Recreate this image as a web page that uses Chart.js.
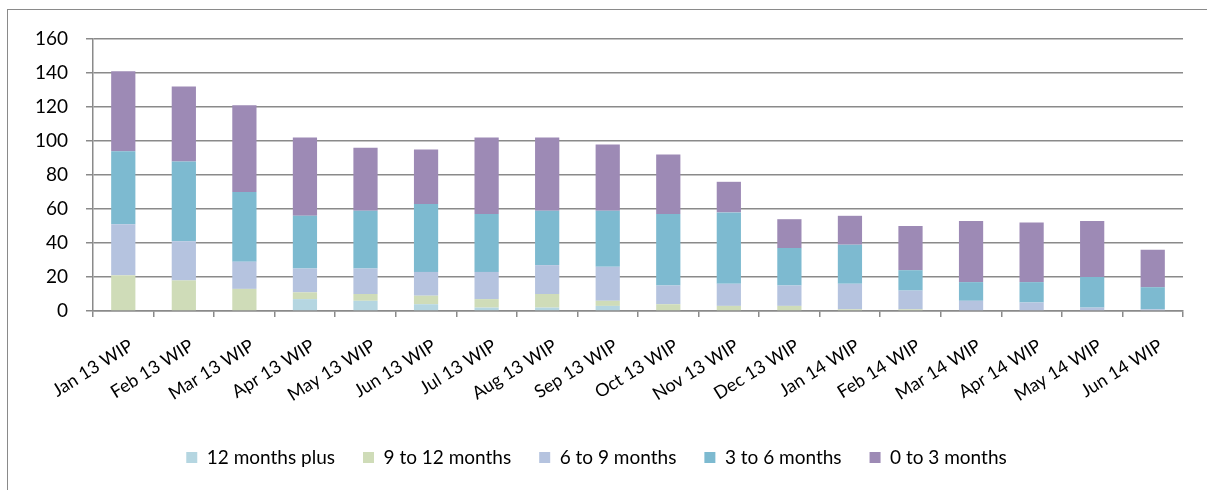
<!DOCTYPE html>
<html>
<head>
<meta charset="utf-8">
<script src="https://cdn.jsdelivr.net/npm/chart.js@4/dist/chart.umd.min.js"></script>
<style>
  body { margin: 0; background: #fff; overflow: hidden; }
  #wrap { position: relative; width: 1207px; height: 490px; }
  #frame { position: absolute; left: 7px; top: 9px; width: 1300px; height: 600px;
           border-left: 1.5px solid #8a8a8a; border-top: 1.5px solid #8a8a8a; }
  canvas { position: absolute; left: 0; top: 0; }
</style>
</head>
<body>
<div id="wrap">
  <div id="frame"></div>
  <canvas id="wipChart" width="1207" height="490"></canvas>
</div>
<script>
const months = ['Jan 13 WIP', 'Feb 13 WIP', 'Mar 13 WIP', 'Apr 13 WIP', 'May 13 WIP', 'Jun 13 WIP',
  'Jul 13 WIP', 'Aug 13 WIP', 'Sep 13 WIP', 'Oct 13 WIP', 'Nov 13 WIP', 'Dec 13 WIP',
  'Jan 14 WIP', 'Feb 14 WIP', 'Mar 14 WIP', 'Apr 14 WIP', 'May 14 WIP', 'Jun 14 WIP'];

const twelvePlus   = [0, 0, 0, 7, 6, 4, 2, 2, 3, 0, 0, 0, 0, 0, 0, 0, 0, 0];
const nineToTwelve = [21, 18, 13, 4, 4, 5, 5, 8, 3, 4, 3, 3, 1, 1, 0, 0, 0, 0];
const sixToNine    = [30, 23, 16, 14, 15, 14, 16, 17, 20, 11, 13, 12, 15, 11, 6, 5, 2, 1];
const threeToSix   = [43, 47, 41, 31, 34, 40, 34, 32, 33, 42, 42, 22, 23, 12, 11, 12, 18, 13];
const zeroToThree  = [47, 44, 51, 46, 37, 32, 45, 43, 39, 35, 18, 17, 17, 26, 36, 35, 33, 22];

const yTicks = [0, 20, 40, 60, 80, 100, 120, 140, 160];

const font = { family: 'Lato', size: 19 };

function series(label, data, color) {
  return { label: label, data: data, backgroundColor: color, borderWidth: 0,
           barPercentage: 0.4, categoryPercentage: 1 };
}

const ctx = document.getElementById('wipChart').getContext('2d');

const chart = new Chart(ctx, {
  type: 'bar',
  data: {
    labels: months,
    datasets: [
      series('12 months plus', twelvePlus, '#b5d6e1'),
      series('9 to 12 months', nineToTwelve, '#cfdcb8'),
      series('6 to 9 months', sixToNine, '#b5c3df'),
      series('3 to 6 months', threeToSix, '#7dbad0'),
      series('0 to 3 months', zeroToThree, '#9d8ab5')
    ]
  },
  options: {
    responsive: false,
    animation: false,
    layout: { padding: { left: 10, right: 24, top: 39, bottom: 13 } },
    plugins: {
      tooltip: { enabled: false },
      legend: {
        position: 'bottom',
        labels: { font: font, color: '#000', boxWidth: 11, boxHeight: 11, padding: 28 }
      }
    },
    scales: {
      x: {
        stacked: true,
        grid: { offset: true, drawOnChartArea: false, drawTicks: true, tickLength: 6,
                color: '#8a8a8a', lineWidth: 1.5 },
        border: { color: '#8a8a8a', width: 1.5 },
        ticks: { font: { family: 'Lato', size: 18 }, color: '#000', minRotation: 32, maxRotation: 32,
                 padding: 18, labelOffset: 8, autoSkip: false },
        afterFit: s => { s.height = 109; }
      },
      y: {
        stacked: true,
        min: 0,
        max: 160,
        afterBuildTicks: s => { s.ticks = yTicks.map(v => ({ value: v })); },
        grid: { color: '#8a8a8a', lineWidth: 1.5, tickLength: 7 },
        border: { color: '#8a8a8a', width: 1.5 },
        ticks: { font: font, color: '#000', padding: 18 },
        afterFit: s => { s.width = 83; }
      }
    }
  }
});
</script>
</body>
</html>
